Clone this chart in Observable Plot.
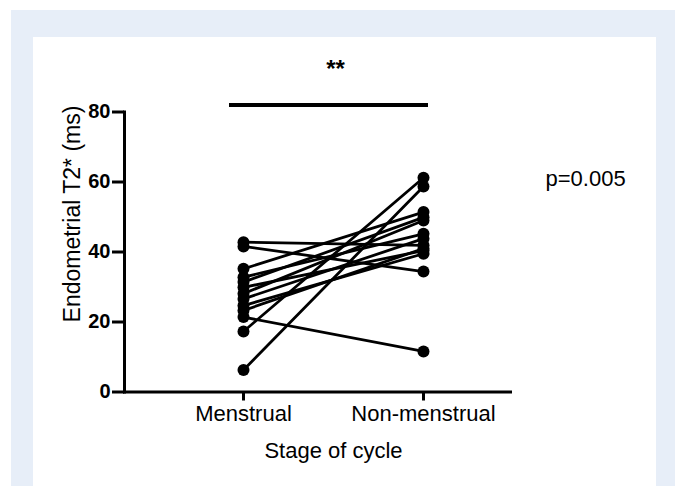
<!DOCTYPE html>
<html>
<head>
<meta charset="utf-8">
<script src="https://cdn.jsdelivr.net/npm/d3@7"></script>
<script src="https://cdn.jsdelivr.net/npm/@observablehq/plot@0.6"></script>
<style>
  html, body { margin: 0; padding: 0; background: #ffffff; }
  #wrap { position: relative; width: 675px; height: 486px; overflow: hidden; background: #ffffff; }
  #blue { position: absolute; left: 11px; top: 10px; width: 664px; height: 476px; background: #e7eef8; }
  #panel { position: absolute; left: 33px; top: 37px; width: 623px; height: 449px; background: #ffffff; }
  #chart { position: absolute; left: 0; top: 0; }
</style>
</head>
<body>
<div id="wrap">
  <div id="blue"></div>
  <div id="panel"></div>
  <div id="chart"></div>
</div>
<script>
// Data
const stages = ["Menstrual", "Non-menstrual"];
const subjects = ["S1","S2","S3","S4","S5","S6","S7","S8","S9","S10","S11","S12","S13"];
const menstrual    = [42.8, 41.6, 35.2, 32.8, 31.4, 29.9, 28.1, 26.6, 24.7, 23.3, 21.4, 17.3, 6.3];
const nonMenstrual = [41.9, 34.4, 51.4, 45.2, 49.9, 40.4, 49.0, 43.8, 39.5, 41.0, 11.6, 61.2, 58.7];
const yTicks = [0, 20, 40, 60, 80];
const significance = "**";
const pText = "p=0.005";
const bracketLevel = [82];
const xTitle = "Stage of cycle";
const yTitle = "Endometrial T2* (ms)";

const rows = subjects.flatMap((s, i) => [
  {subject: s, stage: stages[0], value: menstrual[i]},
  {subject: s, stage: stages[1], value: nonMenstrual[i]}
]);

const font = "'Liberation Sans', Arial, Helvetica, sans-serif";

const plot = Plot.plot({
  width: 675,
  height: 486,
  marginLeft: 124,
  marginRight: 165,
  marginTop: 111.5,
  marginBottom: 94.5,
  style: {fontFamily: font, fontSize: "22px", background: "transparent", color: "#000", overflow: "visible"},
  x: {type: "point", domain: stages, range: [242.7, 422.7], padding: 0},
  y: {domain: [0, 80]},
  marks: [
    Plot.frame({anchor: "left", stroke: "#000", strokeWidth: 3}),
    Plot.frame({anchor: "bottom", stroke: "#000", strokeWidth: 3}),
    Plot.axisY({ticks: yTicks, tickSize: 12, tickPadding: 2, strokeWidth: 3, fontSize: 20, fontWeight: "bold", label: null, tickFormat: d => String(d)}),
    Plot.axisX({tickSize: 9, tickPadding: 4, strokeWidth: 3, fontSize: 22, label: null}),
    Plot.line(rows, {x: "stage", y: "value", z: "subject", stroke: "#000", strokeWidth: 2.8}),
    Plot.dot(rows, {x: "stage", y: "value", r: 6, fill: "#000", stroke: "none"}),
    Plot.ruleY(bracketLevel, {x1: () => stages[0], x2: () => stages[1], stroke: "#000", strokeWidth: 4, insetLeft: -14, insetRight: -5}),
    Plot.text([significance], {x: () => stages[0], y: () => 95, dx: 92, text: d => d, fontSize: 24, fontWeight: "bold", lineAnchor: "top", fill: "#000"}),
    Plot.text([pText], {x: () => stages[1], y: () => 61, dx: 122, text: d => d, fontSize: 22, textAnchor: "start", fill: "#000"}),
    Plot.text([xTitle], {frameAnchor: "bottom", dx: 16, dy: 58.5, text: d => d, fontSize: 22, lineAnchor: "middle", textAnchor: "middle", fill: "#000"}),
    Plot.text([yTitle], {frameAnchor: "left", dx: -52, dy: -38, rotate: -90, text: d => d, fontSize: 23, textAnchor: "middle", lineAnchor: "middle", fill: "#000"})
  ]
});
document.getElementById("chart").appendChild(plot);
</script>
</body>
</html>
